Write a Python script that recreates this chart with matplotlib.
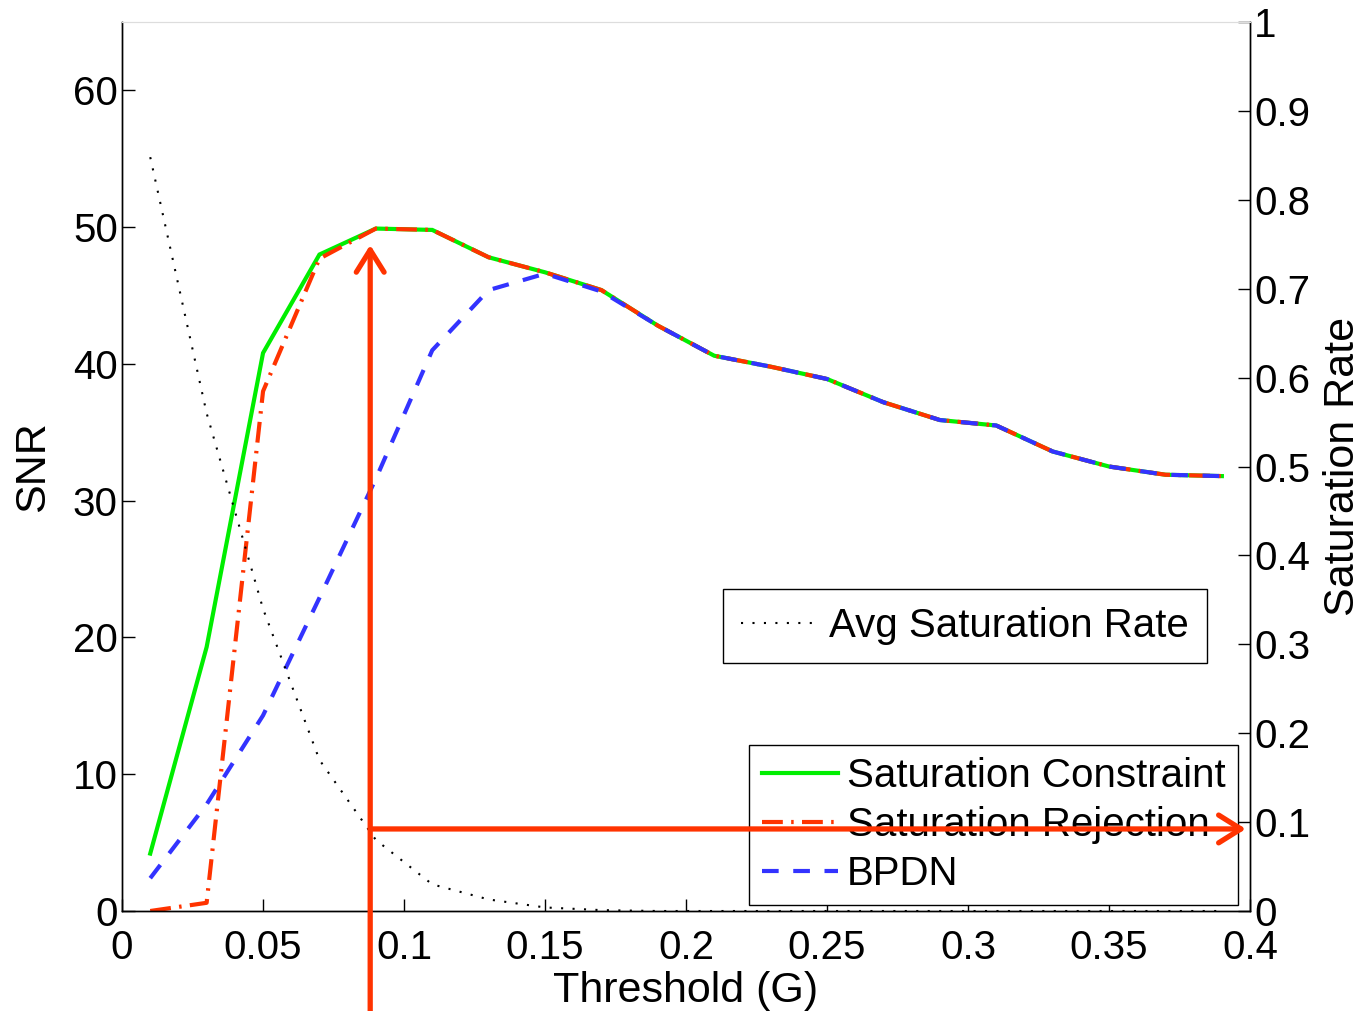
import matplotlib
matplotlib.use('Agg')
import matplotlib.pyplot as plt

# Data
threshold = [0.01, 0.03, 0.05, 0.07, 0.09, 0.11, 0.13, 0.15, 0.17, 0.19,
             0.21, 0.23, 0.25, 0.27, 0.29, 0.31, 0.33, 0.35, 0.37, 0.39]
snr_constraint = [4.2, 19.3, 40.8, 48.0, 49.9, 49.8, 47.8, 46.7, 45.4, 42.8,
                  40.6, 39.8, 38.9, 37.2, 35.9, 35.5, 33.6, 32.5, 31.9, 31.8]
snr_rejection = [0.0, 0.6, 38.0, 47.7, 49.9, 49.8, 47.8, 46.7, 45.4, 42.8,
                 40.6, 39.8, 38.9, 37.2, 35.9, 35.5, 33.6, 32.5, 31.9, 31.8]
snr_bpdn = [2.4, 7.8, 14.3, 22.9, 31.6, 41.0, 45.4, 46.6, 45.3, 42.8,
            40.6, 39.8, 38.9, 37.2, 35.9, 35.5, 33.6, 32.5, 31.9, 31.8]
sat_rate = [0.848, 0.56, 0.34, 0.17, 0.08, 0.03, 0.013, 0.004, 0.001, 0.0,
            0.0, 0.0, 0.0, 0.0, 0.0, 0.0, 0.0, 0.0, 0.0, 0.0]

x_ticks = [0, 0.05, 0.1, 0.15, 0.2, 0.25, 0.3, 0.35, 0.4]
x_labels = ['0', '0.05', '0.1', '0.15', '0.2', '0.25', '0.3', '0.35', '0.4']
snr_ticks = [0, 10, 20, 30, 40, 50, 60]
rate_ticks = [0, 0.1, 0.2, 0.3, 0.4, 0.5, 0.6, 0.7, 0.8, 0.9, 1]
rate_labels = ['0', '0.1', '0.2', '0.3', '0.4', '0.5', '0.6', '0.7', '0.8', '0.9', '1']

# arrow marking the chosen threshold
thr_pick = 0.088
snr_pick = 48.7
snr_level = 6.0

plt.rcParams['font.family'] = ['Liberation Sans', 'DejaVu Sans']
fs = 29
red = '#ff3300'

fig = plt.figure(figsize=(13.65, 10.11), dpi=100)
ax = fig.add_axes([0.0894, 0.0989, 0.8264, 0.8793])
ax2 = ax.twinx()

l_con, = ax.plot(threshold, snr_constraint, color='#00ee00', lw=3, solid_joinstyle='miter')
l_rej, = ax.plot(threshold, snr_rejection, color=red, lw=3, dashes=(5, 2, 0.6, 2))
l_bp, = ax.plot(threshold, snr_bpdn, color='#3333ff', lw=3, dashes=(4, 3.5))
l_sat, = ax2.plot(threshold, sat_rate, color='black', lw=1.5, dashes=(1, 4.5))

ax.set_xlim(0, 0.4)
ax.set_ylim(0, 65)
ax2.set_ylim(0, 1)
ax.set_xticks(x_ticks)
ax.set_xticklabels(x_labels)
ax.set_yticks(snr_ticks)
ax2.set_yticks(rate_ticks)
ax2.set_yticklabels(rate_labels)

for a in (ax, ax2):
    a.tick_params(direction='in', length=9, width=1, labelsize=fs, pad=3)
    a.spines['top'].set_color('#dddddd')
    for s in ('left', 'right', 'bottom'):
        a.spines[s].set_linewidth(1)
ax.tick_params(axis='x', pad=13)

ax.set_xlabel('Threshold (G)', fontsize=fs + 2, labelpad=3)
ax.set_ylabel('SNR', fontsize=fs + 2, labelpad=14)
ax2.set_ylabel('Saturation Rate', fontsize=fs + 2, labelpad=9)

leg1 = ax2.legend([l_sat], ['Avg Saturation Rate'], loc='upper right',
                  bbox_to_anchor=(0.962, 0.362), fontsize=fs, fancybox=False,
                  edgecolor='black', framealpha=1, handlelength=1.9,
                  handletextpad=0.3, borderpad=0.45, borderaxespad=0)
leg1.get_frame().set_linewidth(1)
leg1._legend_box.sep = 0
ax2.add_artist(leg1)
leg2 = ax2.legend([l_con, l_rej, l_bp],
                  ['Saturation Constraint', 'Saturation Rejection', 'BPDN'],
                  loc='upper right', bbox_to_anchor=(0.989, 0.187), fontsize=fs,
                  fancybox=False, edgecolor='black', framealpha=1,
                  handlelength=1.9, handletextpad=0.22, borderpad=0.3,
                  labelspacing=0.28, borderaxespad=0, handleheight=0.7)
leg2.get_frame().set_linewidth(1)

arrow_style = dict(arrowstyle='->,head_length=0.8,head_width=0.5',
                   color=red, lw=3.8, mutation_scale=20, shrinkA=0, shrinkB=0)
ax2.annotate('', xy=(thr_pick, snr_pick), xytext=(thr_pick, -9),
             xycoords=ax.transData, textcoords=ax.transData,
             arrowprops=arrow_style, annotation_clip=False, zorder=10)
ax2.annotate('', xy=(0.3985, snr_level), xytext=(thr_pick, snr_level),
             xycoords=ax.transData, textcoords=ax.transData,
             arrowprops=arrow_style, annotation_clip=False, zorder=10)

fig.savefig('out.png', dpi=100)
